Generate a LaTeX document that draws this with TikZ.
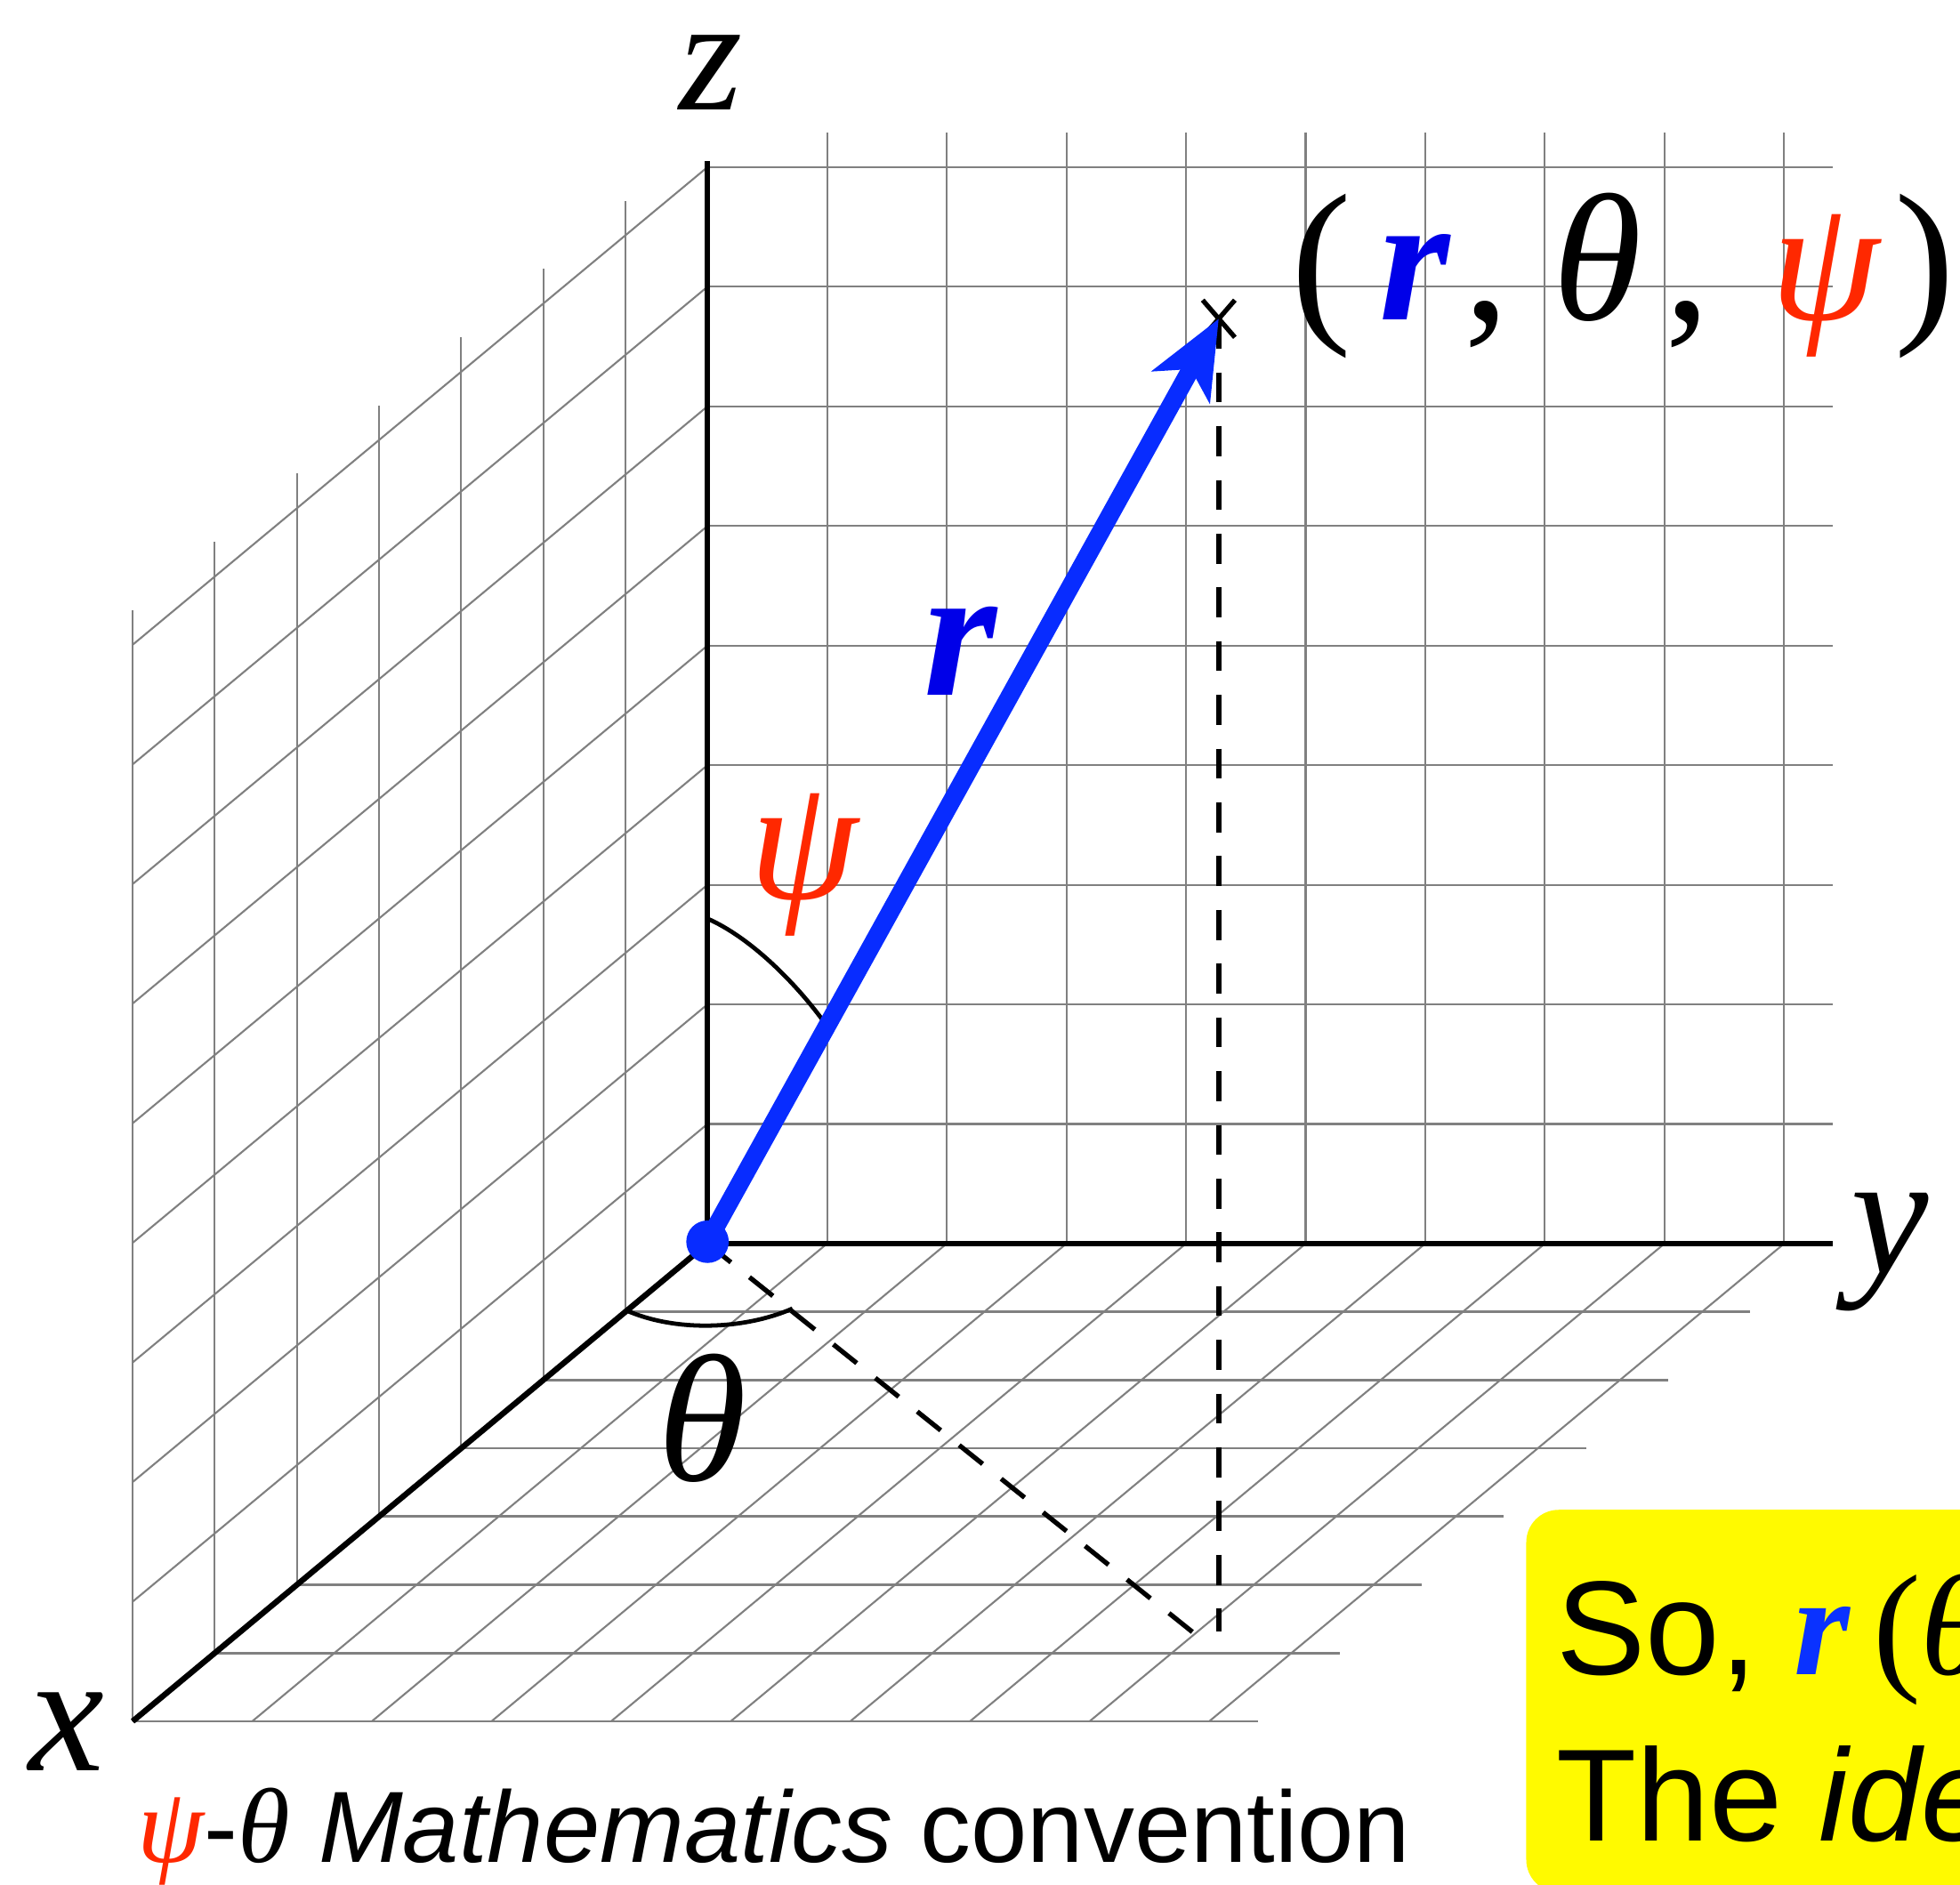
\documentclass[tikz,border=0pt]{standalone}
\usepackage{fontspec}
\setmainfont{Liberation Serif}
\newfontfamily\tms{Liberation Serif}
\newfontfamily\hlv{Liberation Sans}
\usetikzlibrary{arrows.meta,shapes.misc}
\definecolor{gridc}{RGB}{128,128,128}
\definecolor{arrblue}{RGB}{8,44,255}
\definecolor{lblblue}{RGB}{0,0,232}
\definecolor{psired}{RGB}{255,40,0}
\definecolor{boxyel}{RGB}{255,250,0}
\definecolor{boxblue}{RGB}{10,50,255}
\begin{document}
\begin{tikzpicture}[x=1pt,y=-1pt,
  gridline/.style={draw=gridc,line width=1.5pt},
  floorline/.style={draw=gridc,line width=1.9pt},
  axisline/.style={draw=black,line width=4.6pt},
  dashline/.style={draw=black,line width=3.8pt,dash pattern=on 24pt off 19pt},
  anglearc/.style={draw=black,line width=3.4pt},
  mathlbl/.style={inner sep=0pt,font=\fontsize{145}{150}\tms\itshape},
  plain/.style={inner sep=0pt}
]
\useasboundingbox (0,0) rectangle (1568,1508);

% ---- back wall (y-z plane)
\foreach \k in {1,...,9}
  \draw[gridline] ({566+95.7*\k},995) -- ({566+95.7*\k},106);
\foreach \j in {1,...,9}
  \draw[gridline] (566,{995-95.7*\j}) -- (1466,{995-95.7*\j});
% ---- left wall (x-z plane)
\foreach \k in {1,...,7}
  \draw[gridline] ({566-65.7*\k},{995+54.6*\k}) -- ({566-65.7*\k},{106+54.6*\k});
\foreach \j in {1,...,9}
  \draw[gridline] (566,{995-95.7*\j}) -- ({566-65.7*7},{995-95.7*\j+54.6*7});
% ---- floor (x-y plane)
\foreach \k in {1,...,7}
  \draw[floorline] ({566-65.7*\k},{995+54.6*\k}) -- ({1466-65.7*\k},{995+54.6*\k});
\foreach \m in {1,...,9}
  \draw[gridline] ({566+95.7*\m},995) -- ({566+95.7*\m-65.7*7},{995+54.6*7});

% ---- axes
\coordinate (O) at (566,995);
\coordinate (zend) at (566,129);
\coordinate (yend) at (1466,995);
\coordinate (xend) at ({566-65.7*7},{995+54.6*7});
\draw[axisline] (zend) -- (O) -- (yend);
\draw[axisline] (O) -- (xend);

% ---- point and projections
\coordinate (F1) at (975,1305);
\coordinate (F2) at (968,1317);
\node[cross out, draw=black, line width=3.8pt, minimum width=22pt, minimum height=26pt, inner sep=0pt] (P) at (975,255) {};
\draw[dashline] (P.center) -- (F1);
\draw[dashline] (O) -- (F2);

% ---- angle arcs
\coordinate (psiA) at (566,735);
\coordinate (psiB) at (658,816);
\draw[anglearc] (psiA) .. controls (600,750) and (635,785) .. (psiB);
\coordinate (thA) at (500,1048);
\coordinate (thB) at (634,1047);
\draw[anglearc] (thA) .. controls (540,1066) and (595,1064) .. (thB);

% ---- radius vector
\node[circle, fill=arrblue, minimum size=34pt, inner sep=0pt] (dot) at (566,993.5) {};
\draw[arrblue, line width=14.5pt, -{Stealth[length=62pt,width=52pt,inset=16pt]}] (dot.center) -- (P.center);

% ---- labels
\node[mathlbl, anchor=base, font=\fontsize{130}{140}\tms\itshape] (zlab) at (569,88) {z};
\node[mathlbl, anchor=base, font=\fontsize{140}{150}\tms\itshape] (ylab) at (1512,1019) {y};
\node[mathlbl, anchor=base, font=\fontsize{136}{150}\tms\itshape] (xlab) at (53,1417) {x};
\node[mathlbl, anchor=base] (thlab) at (562,1185) {θ};
\node[mathlbl, anchor=base, text=psired, font=\fontsize{140}{150}\tms\itshape] (psilab) at (643,719) {ψ};
\node[mathlbl, anchor=base, text=lblblue, font=\fontsize{150}{150}\tms\bfseries\itshape] (rlab) at (768,556) {r};
\node[mathlbl, anchor=base west] (tuple) at (1033,256)
  {{\upshape(}\kern22pt{\bfseries\color{lblblue}r}\kern11pt{\upshape,}\kern35pt θ\kern19pt{\upshape,}\kern48pt{\color{psired}\fontsize{140}{150}\selectfont ψ}\kern12pt{\upshape)}};

% ---- caption
\node[plain, anchor=base west] (cap) at (110,1490)
  {{\fontsize{86}{90}\tms\itshape\color{psired}ψ}{\fontsize{81}{90}\hlv -}{\fontsize{85}{90}\tms\itshape θ}{\fontsize{81}{90}\hlv\ \itshape Mathematics\upshape\ convention}};

% ---- yellow note (cut by the picture edge)
\begin{scope}
\clip (0,0) rectangle (1568,1508);
\fill[boxyel, rounded corners=26pt] (1221,1208) rectangle (1700,1514);
\node[plain, anchor=base west] (line1) at (1245,1339.6)
  {\fontsize{107}{110}\hlv So, {\fontsize{115}{120}\tms\bfseries\itshape\color{boxblue}r}\kern18pt{\fontsize{115}{120}\tms(\itshape θ}};
\node[plain, anchor=base west] (line2) at (1245,1473)
  {\fontsize{105}{110}\hlv The {\itshape ide}};
\end{scope}
\end{tikzpicture}
\end{document}
